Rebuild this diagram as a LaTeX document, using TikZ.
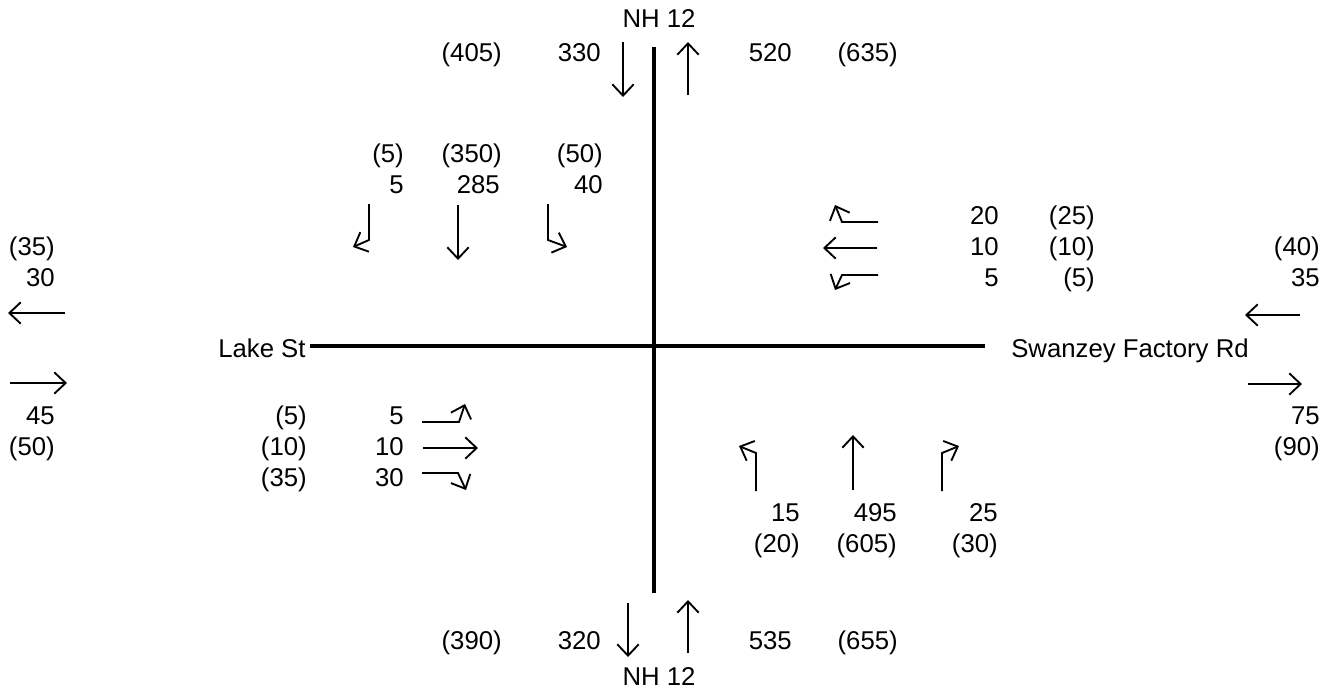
\documentclass[tikz,border=0pt]{standalone}
\usepackage{fontspec}
\setmainfont{Liberation Sans}
\usetikzlibrary{arrows.meta}
\begin{document}
\begin{tikzpicture}[x=0.75pt,y=-0.75pt,
  lbl/.style={inner sep=0pt, anchor=base east, font=\fontsize{19.3}{23}\selectfont},
  llbl/.style={inner sep=0pt, anchor=base west, font=\fontsize{19.3}{23}\selectfont},
  clbl/.style={inner sep=0pt, anchor=base, font=\fontsize{19.3}{23}\selectfont},
  road/.style={line width=2.6pt},
  mv/.style={line width=1.4pt, -{Straight Barb[length=8.5pt,width=16pt]}}]
\useasboundingbox (0,0) rectangle (1337,694);
% roads
\coordinate (rN) at (654,47); \coordinate (rS) at (654,593);
\coordinate (rW) at (310,346); \coordinate (rE) at (985,346);
\draw[road] (rN) -- (rS);
\draw[road] (rW) -- (rE);
% street names
\node[clbl] (nhN) at (659,27) {NH 12};
\node[clbl] (nhS) at (659,685) {NH 12};
\node[llbl] (lake) at (218,357) {Lake St};
\node[llbl] (swz) at (1011,357) {Swanzey Factory Rd};
% north leg
\draw[mv] (623,42) -- (623,97);
\draw[mv] (688,95) -- (688,42);
\node[lbl] (n1) at (502,61) {(405)};
\node[lbl] (n2) at (601,61) {330};
\node[lbl] (n3) at (792,61) {520};
\node[lbl] (n4) at (898,61) {(635)};
% south leg
\draw[mv] (628,603) -- (628,657);
\draw[mv] (688,653) -- (688,600);
\node[lbl] (s1) at (502,649) {(390)};
\node[lbl] (s2) at (601,649) {320};
\node[lbl] (s3) at (792,649) {535};
\node[lbl] (s4) at (898,649) {(655)};
% southbound approach
\node[lbl] (sb1a) at (404,162) {(5)};
\node[lbl] (sb2a) at (502,162) {(350)};
\node[lbl] (sb3a) at (603,162) {(50)};
\node[lbl] (sb1b) at (404,193) {5};
\node[lbl] (sb2b) at (500,193) {285};
\node[lbl] (sb3b) at (603,193) {40};
\draw[mv] (369,204) -- (369,240) -- (353,247);
\draw[mv] (458,205) -- (458,260);
\draw[mv] (548,204) -- (548,240) -- (567,247);
% westbound approach
\node[lbl] (wb1a) at (999,224) {20};
\node[lbl] (wb2a) at (1095,224) {(25)};
\node[lbl] (wb1b) at (999,255) {10};
\node[lbl] (wb2b) at (1095,255) {(10)};
\node[lbl] (wb1c) at (999,286) {5};
\node[lbl] (wb2c) at (1095,286) {(5)};
\draw[mv] (878,222) -- (842,222) -- (835,205);
\draw[mv] (877,248) -- (823,248);
\draw[mv] (878,275) -- (842,275) -- (835,290);
% eastbound approach
\node[lbl] (eb1a) at (307,424) {(5)};
\node[lbl] (eb2a) at (404,424) {5};
\node[lbl] (eb1b) at (307,455) {(10)};
\node[lbl] (eb2b) at (404,455) {10};
\node[lbl] (eb1c) at (307,486) {(35)};
\node[lbl] (eb2c) at (404,486) {30};
\draw[mv] (422,422) -- (459,422) -- (465,404);
\draw[mv] (423,448) -- (478,448);
\draw[mv] (422,473) -- (458,473) -- (466,490);
% northbound approach
\node[lbl] (nb1a) at (800,521) {15};
\node[lbl] (nb2a) at (897,521) {495};
\node[lbl] (nb3a) at (998,521) {25};
\node[lbl] (nb1b) at (800,552) {(20)};
\node[lbl] (nb2b) at (897,552) {(605)};
\node[lbl] (nb3b) at (998,552) {(30)};
\draw[mv] (756,491) -- (756,453) -- (739,446);
\draw[mv] (853,490) -- (853,435);
\draw[mv] (942,491) -- (942,453) -- (959,446);
% west leg
\node[lbl] (w1) at (55,255) {(35)};
\node[lbl] (w2) at (55,286) {30};
\draw[mv] (65,313) -- (8,313);
\draw[mv] (10,383) -- (67,383);
\node[lbl] (w3) at (55,424) {45};
\node[lbl] (w4) at (55,455) {(50)};
% east leg
\node[lbl] (e1) at (1320,255) {(40)};
\node[lbl] (e2) at (1320,286) {35};
\draw[mv] (1300,315) -- (1245,315);
\draw[mv] (1248,384) -- (1302,384);
\node[lbl] (e3) at (1320,424) {75};
\node[lbl] (e4) at (1320,455) {(90)};
\end{tikzpicture}
\end{document}
